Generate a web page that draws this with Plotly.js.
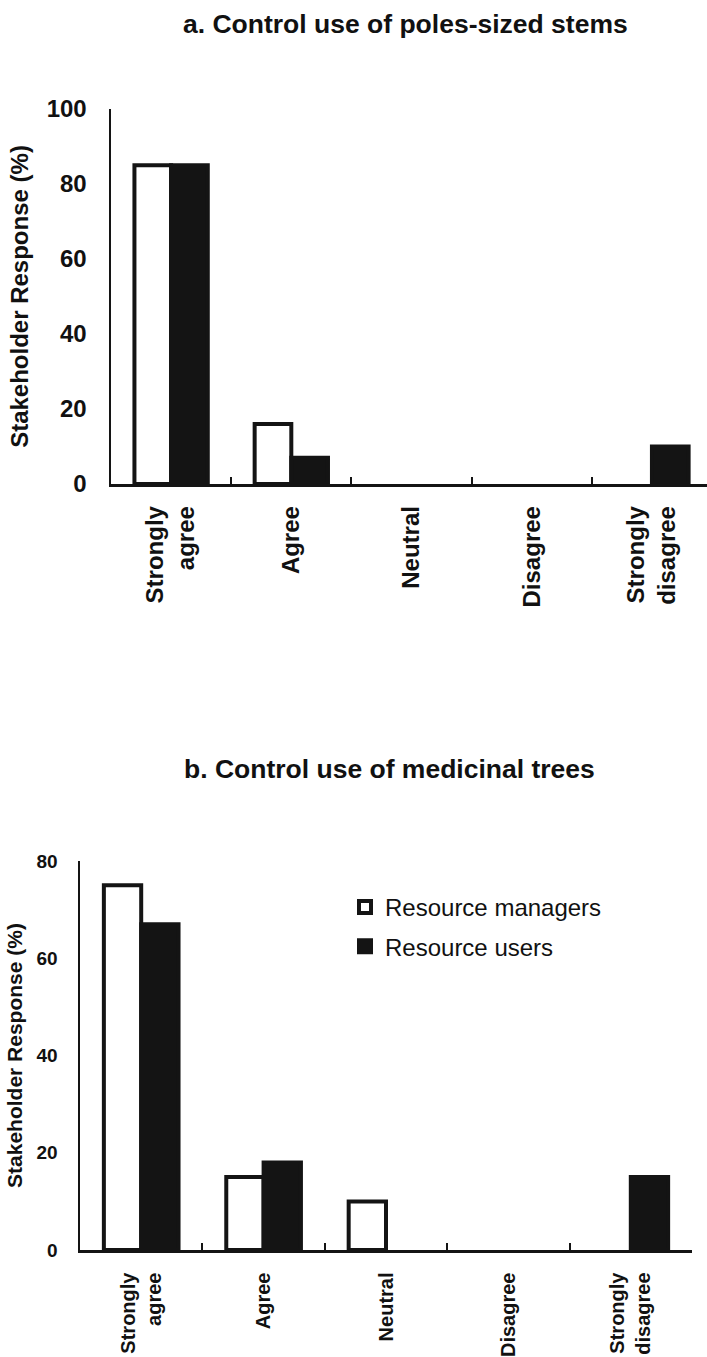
<!DOCTYPE html>
<html>
<head>
<meta charset="utf-8">
<script src="https://cdn.plot.ly/plotly-3.0.1.min.js"></script>
<style>html,body{margin:0;padding:0;background:#fff;}#chart{width:707px;height:1357px;}</style>
</head>
<body>
<div id="chart"></div>
<script>
// ---- data ----
const categories = ['Strongly<br>agree', 'Agree', 'Neutral', 'Disagree', 'Strongly<br>disagree'];
const seriesNames = ['Resource managers', 'Resource users'];
const polesManagers = [85, 16, 0, 0, 0];
const polesUsers = [85, 7, 0, 0, 10];
const medicinalManagers = [75, 15, 10, 0, 0];
const medicinalUsers = [67, 18, 0, 0, 15];
const titleA = 'a. Control use of poles-sized stems';
const titleB = 'b. Control use of medicinal trees';
const yTitle = 'Stakeholder Response (%)';
const yTicksA = [0, 20, 40, 60, 80, 100];
const yTicksB = [0, 20, 40, 60, 80];

const FONT = 'Liberation Sans, Arial, Helvetica, sans-serif';
const BLACK = '#141414';

function barTrace(y, isUsers, xa, ya, showLegend) {
  return {
    type: 'bar',
    x: categories,
    y: y,
    name: isUsers ? seriesNames[1] : seriesNames[0],
    xaxis: xa, yaxis: ya,
    showlegend: showLegend,
    legendgroup: isUsers ? 'users' : 'managers',
    marker: {
      color: isUsers ? BLACK : '#ffffff',
      line: {color: BLACK, width: y.map(v => (v === 0 ? 0 : 4))}
    },
    hoverinfo: 'skip'
  };
}

const data = [
  barTrace(polesManagers, false, 'x', 'y', false),
  barTrace(polesUsers, true, 'x', 'y', false),
  barTrace(medicinalManagers, false, 'x2', 'y2', true),
  barTrace(medicinalUsers, true, 'x2', 'y2', true)
];

const H = 1357, W = 707;
const py = v => (H - v) / H;
const px = v => v / W;

const layout = {
  width: W, height: H,
  margin: {l: 0, r: 0, t: 0, b: 0},
  paper_bgcolor: '#fff', plot_bgcolor: '#fff',
  font: {family: FONT, color: '#111'},
  barmode: 'group',
  bargap: 0.39,
  bargroupgap: 0,
  showlegend: true,
  legend: {
    x: px(345), y: py(885), xanchor: 'left', yanchor: 'top',
    font: {family: FONT, size: 24, color: '#111'},
    traceorder: 'grouped', tracegroupgap: 5,
    bgcolor: 'rgba(0,0,0,0)'
  },
  xaxis: {
    domain: [px(111), 1],
    range: [-0.5, 4.458],
    type: 'category',
    showline: true, linecolor: BLACK, linewidth: 2.5,
    ticks: 'inside', tickson: 'boundaries', ticklen: 7, tickwidth: 2, tickcolor: BLACK,
    tickangle: -90,
    tickfont: {family: FONT, size: 24, color: '#111', weight: 'bold'},
    ticklabelstandoff: 10,
    showgrid: false, zeroline: false, fixedrange: true,
    anchor: 'y'
  },
  yaxis: {
    domain: [py(484), py(109)],
    range: [0, 100],
    tickvals: yTicksA,
    showline: true, linecolor: BLACK, linewidth: 2.5,
    ticks: '',
    tickfont: {family: FONT, size: 24, color: '#111', weight: 'bold'},
    ticklabelstandoff: 17,
    showgrid: false, zeroline: false, fixedrange: true,
    title: {text: yTitle, font: {family: FONT, size: 24, color: '#111', weight: 'bold'}, standoff: 12},
    anchor: 'x'
  },
  xaxis2: {
    domain: [px(80), px(692)],
    range: [-0.5, 4.5],
    type: 'category',
    showline: true, linecolor: BLACK, linewidth: 2.5,
    ticks: 'inside', tickson: 'boundaries', ticklen: 7, tickwidth: 2, tickcolor: BLACK,
    tickangle: -90,
    tickfont: {family: FONT, size: 20, color: '#111', weight: 'bold'},
    ticklabelstandoff: 12,
    showgrid: false, zeroline: false, fixedrange: true,
    anchor: 'y2'
  },
  yaxis2: {
    domain: [py(1250), py(861)],
    range: [0, 80],
    tickvals: yTicksB,
    showline: true, linecolor: BLACK, linewidth: 2.5,
    ticks: '',
    tickfont: {family: FONT, size: 19, color: '#111', weight: 'bold'},
    ticklabelstandoff: 16,
    showgrid: false, zeroline: false, fixedrange: true,
    title: {text: yTitle, font: {family: FONT, size: 21, color: '#111', weight: 'bold'}, standoff: 8},
    anchor: 'x2'
  },
  annotations: [
    {text: '<b>' + titleA + '</b>', xref: 'paper', yref: 'paper', x: px(406), y: py(24),
     xanchor: 'center', yanchor: 'middle', showarrow: false,
     font: {family: FONT, size: 26.5, color: '#111'}},
    {text: '<b>' + titleB + '</b>', xref: 'paper', yref: 'paper', x: px(390), y: py(769),
     xanchor: 'center', yanchor: 'middle', showarrow: false,
     font: {family: FONT, size: 26.5, color: '#111'}}
  ]
};

Plotly.newPlot('chart', data, layout, {staticPlot: true, displayModeBar: false});
</script>
</body>
</html>
